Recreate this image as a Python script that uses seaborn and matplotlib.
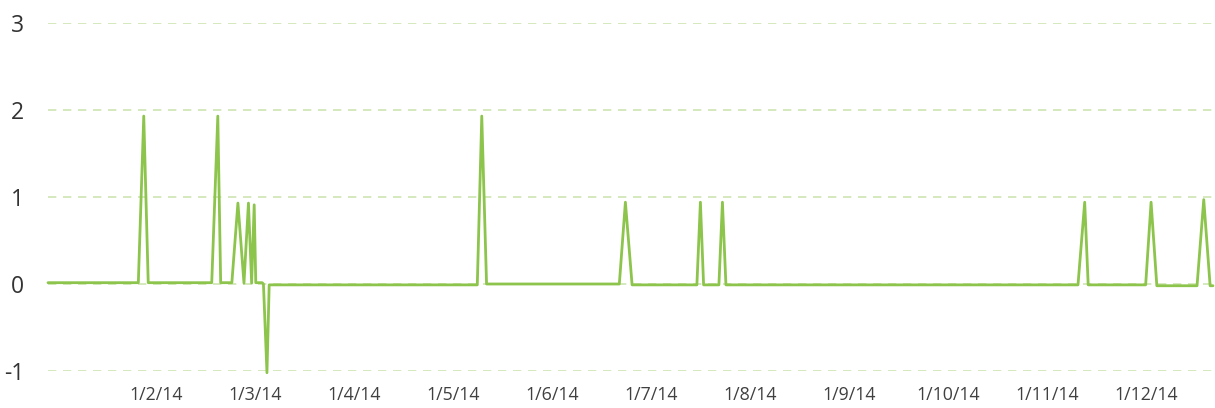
import numpy as np
import pandas as pd
import matplotlib
matplotlib.use("Agg")
import matplotlib.pyplot as plt
import seaborn as sns

# Data: day of year (2014, 0 = 1 Jan) and value
days = [0, 28.3, 30.0, 31.4, 51.3, 53.2, 54.1, 57.6, 59.5, 61.4, 62.8, 63.8, 64.6,
        65.1, 67.1, 67.5, 68.6, 69.3, 134.5, 135.9, 137.4, 179.0, 180.9, 183.0,
        203.3, 204.4, 205.4, 210.2, 211.3, 212.4, 322.7, 324.8, 325.9, 343.9,
        345.6, 347.4, 360.0, 362.1, 364.1, 365.0]
values = [0.015, 0.015, 1.93, 0.015, 0.015, 1.93, 0.015, 0.015, 0.93, 0.01, 0.93, 0.01, 0.91,
          0.015, 0.015, 0.0, -1.02, -0.01, -0.01, 1.93, 0.0, 0.0, 0.94, -0.01,
          -0.01, 0.94, -0.01, -0.01, 0.94, -0.01, -0.01, 0.94, -0.01, -0.01,
          0.94, -0.02, -0.02, 0.97, -0.02, -0.02]

tick_labels = ["1/2/14", "1/3/14", "1/4/14", "1/5/14", "1/6/14", "1/7/14",
               "1/8/14", "1/9/14", "1/10/14", "1/11/14", "1/12/14"]
y_ticks = [-1, 0, 1, 2, 3]

df = pd.DataFrame({"day": days, "value": values})

sns.set_style("white")
plt.rcParams['font.family'] = ['Open Sans', 'DejaVu Sans']

fig = plt.figure(figsize=(12.15, 4.08), dpi=100)
ax = fig.add_axes([48 / 1215, 1 - 371 / 408, (1213 - 48) / 1215, (371 - 23) / 408])

line_color = "#8cc44c"
grid_color = "#cde4b2"

sns.lineplot(data=df, x="day", y="value", ax=ax, color=line_color, linewidth=2,
             clip_on=False, zorder=3)

ax.set_xlim(0, 365)
ax.set_ylim(-1, 3)
ax.set_yticks(y_ticks)
ax.set_yticklabels([str(v) for v in y_ticks], fontsize=16.5, color="#333333")
tick_pos = 34 + 31 * np.arange(len(tick_labels))
ax.set_xticks(tick_pos)
ax.set_xticklabels(tick_labels, fontsize=12.8, color="#404040")
ax.tick_params(axis="both", length=0)
ax.tick_params(axis="y", pad=17)
ax.tick_params(axis="x", pad=11)

ax.yaxis.grid(True, color=grid_color, linestyle=(0, (5, 4)), linewidth=1.2, zorder=0)
ax.xaxis.grid(False)
for s in ax.spines.values():
    s.set_visible(False)
ax.set_xlabel("")
ax.set_ylabel("")

fig.savefig("out.png", dpi=100)
